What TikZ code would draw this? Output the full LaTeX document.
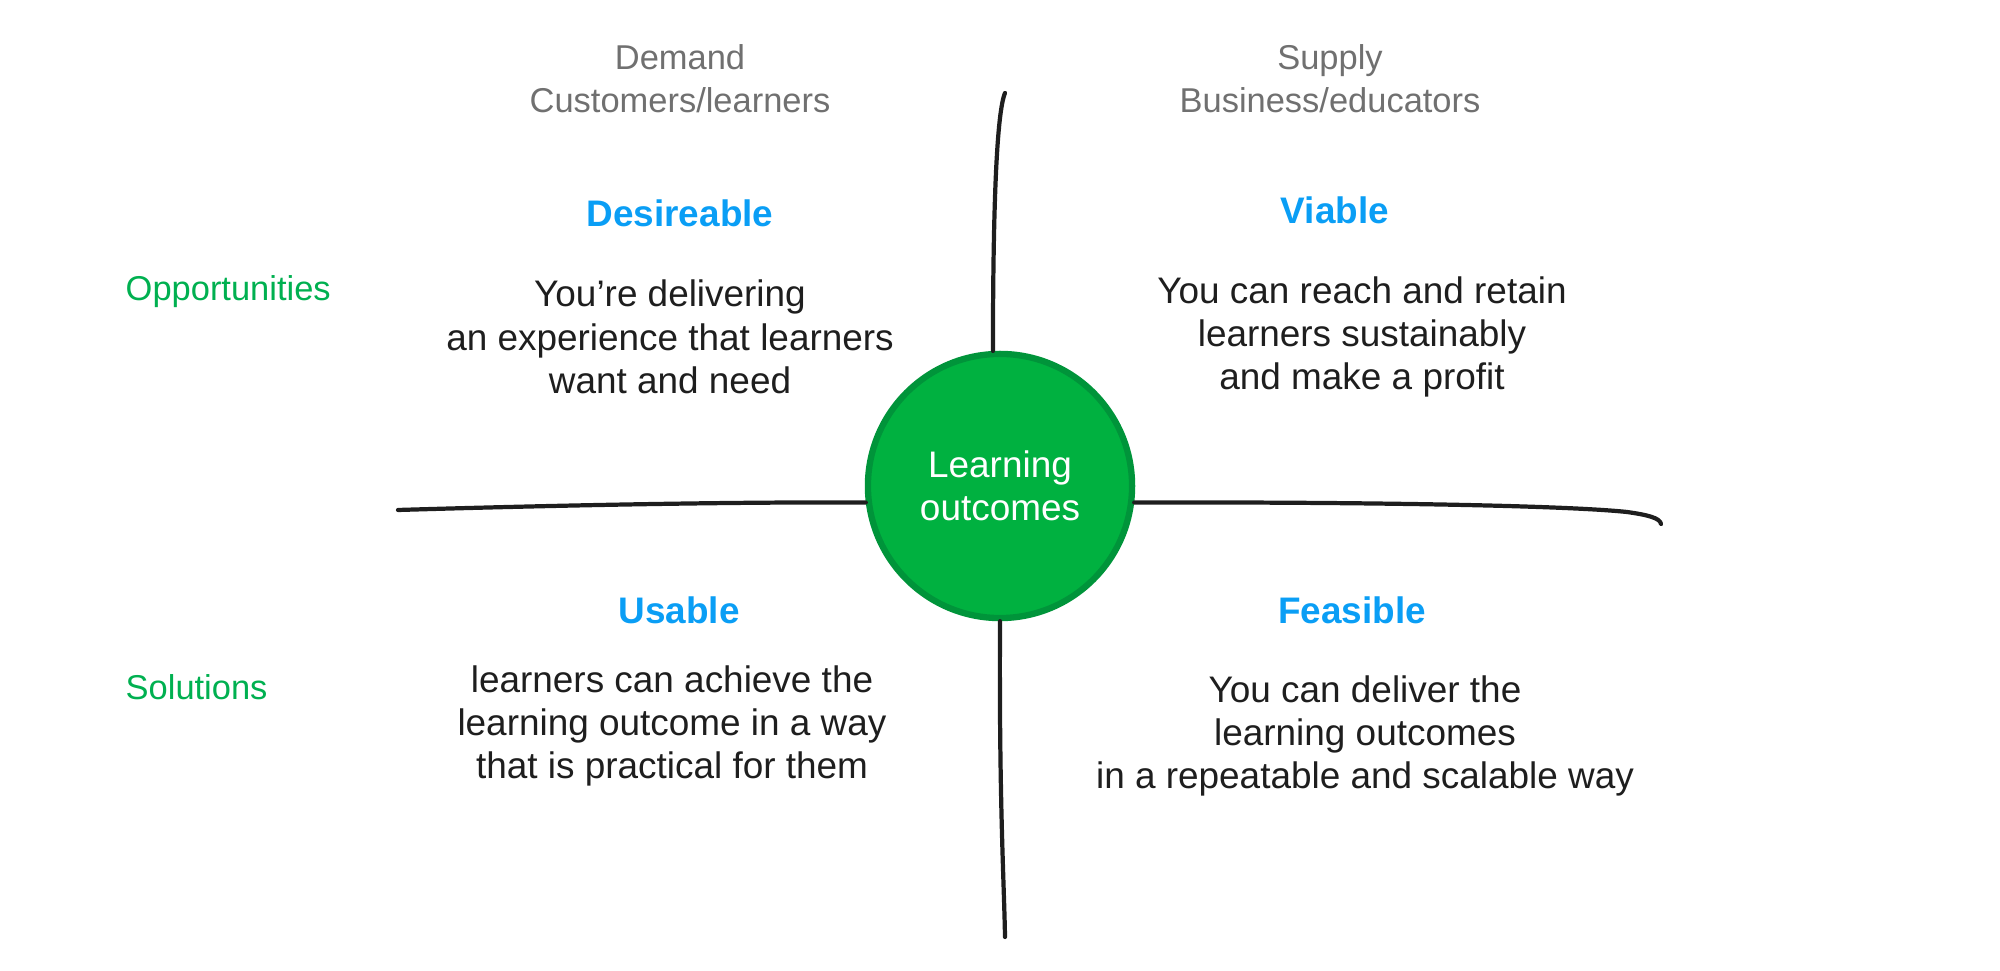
\documentclass[tikz,border=0pt]{standalone}
\usepackage{fontspec}
\setmainfont{Liberation Sans}
\usetikzlibrary{positioning}
\definecolor{outcomegreen}{HTML}{00B140}
\definecolor{ringgreen}{HTML}{00943A}
\definecolor{headblue}{HTML}{0A9EF5}
\definecolor{sidegreen}{HTML}{00B050}
\definecolor{marketgray}{HTML}{707070}
\definecolor{inkblack}{HTML}{1E1E1E}
\begin{document}
\begin{tikzpicture}[x=0.01cm,y=-0.01cm,
                    axis/.style={draw=inkblack,line width=1.2pt,line cap=round},
                    heading/.style={text=headblue,font=\bfseries\fontsize{10.5}{13}\selectfont},
                    body/.style={align=center,text=inkblack,font=\fontsize{10.5}{12.3}\selectfont},
                    side/.style={anchor=west,inner sep=0pt,text=sidegreen,font=\fontsize{9.8}{12.3}\selectfont},
                    market/.style={align=center,text=marketgray,font=\fontsize{9.8}{12.3}\selectfont}]
                        \useasboundingbox (0,0) rectangle (2000,971);
                        % centre
                        \node[circle,fill=outcomegreen,draw=ringgreen,line width=1.8pt,
                              minimum size=2.64cm,inner sep=0pt,align=center,text=white,
                              font=\fontsize{10.5}{12.3}\selectfont] (outcome) at (1000,486) {Learning\\outcomes};
                        % axes
                        \coordinate (vtop) at (1005,93);
                        \coordinate (vbot) at (1005,937);
                        \coordinate (hleft) at (398,510);
                        \coordinate (hright) at (1661,524);
                        \draw[axis] (vtop) .. controls (997,112) and (993,200) .. (outcome.93);
                        \draw[axis] (outcome.270) .. controls (999,800) and (1004,880) .. (vbot);
                        \draw[axis] (hleft) .. controls (600,504) and (760,502) .. (outcome.187);
                        \draw[axis] (outcome.353) .. controls (1350,502) and (1560,505) .. (1627,512)
                                    .. controls (1648,515) and (1660,518) .. (hright);
                        % headers
                        \node[market] (demand) at (680,79) {Demand\\Customers/learners};
                        \node[market] (supply) at (1330,79) {Supply\\Business/educators};
                        \node[side] (opps) at (125,292) {Opportunities};
                        \node[side] (sols) at (125,687) {Solutions};
                        % quadrants
                        \node[body] (desire) at (670,337) {You’re delivering\\an experience that learners\\want and need};
                        \node[body] (viable) at (1362,337) {You can reach and retain\\learners sustainably\\and make a profit};
                        \node[body] (usable) at (672,726) {learners can achieve the\\learning outcome in a way\\that is practical for them};
                        \node[body] (feasible) at (1365,736) {You can deliver the\\learning outcomes\\in a repeatable and scalable way};
                        \node[heading] at (680,213) (desirehead) {Desireable};
                        \node[heading] at (1335,210) (viablehead) {Viable};
                        \node[heading] at (679,610) (usablehead) {Usable};
                        \node[heading] at (1352,610) (feasiblehead) {Feasible};
                    \end{tikzpicture}
\end{document}
